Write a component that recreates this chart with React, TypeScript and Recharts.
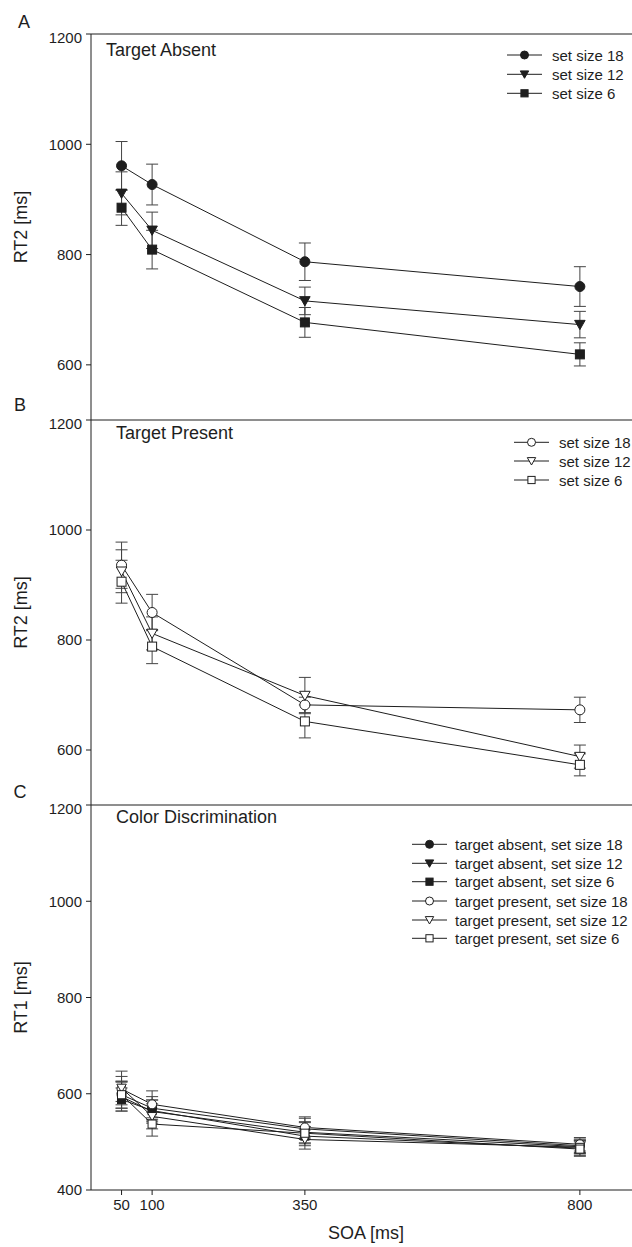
import React from 'react';
import { LineChart, Line, XAxis, YAxis, ErrorBar, ReferenceLine } from 'recharts';

const FONT = '"Liberation Sans", Arial, sans-serif';
const INK = '#1e1e1e';
const BAR = '#444';

// SOA conditions (ms)
const soa = [50, 100, 350, 800];

// Panel A: RT2, target absent
const absent18 = [961, 927, 787, 742];
const absent18Err = [44, 37, 34, 36];
const absent12 = [911, 844, 716, 673];
const absent12Err = [39, 33, 25, 24];
const absent6 = [885, 809, 677, 619];
const absent6Err = [32, 35, 27, 21];

// Panel B: RT2, target present
const present18 = [936, 850, 682, 673];
const present18Err = [42, 33, 14, 23];
const present12 = [925, 812, 699, 588];
const present12Err = [39, 30, 33, 21];
const present6 = [906, 788, 652, 573];
const present6Err = [39, 31, 30, 20];

// Panel C: RT1, color discrimination
const rt1Absent18 = [598, 570, 527, 492];
const rt1Absent18Err = [28, 24, 22, 14];
const rt1Absent12 = [594, 563, 520, 490];
const rt1Absent12Err = [30, 24, 22, 14];
const rt1Absent6 = [588, 565, 512, 487];
const rt1Absent6Err = [24, 22, 20, 15];
const rt1Present18 = [610, 578, 530, 495];
const rt1Present18Err = [26, 28, 22, 14];
const rt1Present12 = [612, 553, 505, 489];
const rt1Present12Err = [35, 26, 20, 14];
const rt1Present6 = [598, 537, 518, 485];
const rt1Present6Err = [28, 25, 22, 15];

const yTicksAB = [600, 800, 1000, 1200];
const yTicksC = [400, 600, 800, 1000, 1200];

type Shape = 'circle' | 'triangle' | 'square';
type Series = { key: string; values: number[]; err: number[]; shape: Shape; filled: boolean; label: string };

const absentSeries: Series[] = [
  { key: 'a18', values: absent18, err: absent18Err, shape: 'circle', filled: true, label: 'set size 18' },
  { key: 'a12', values: absent12, err: absent12Err, shape: 'triangle', filled: true, label: 'set size 12' },
  { key: 'a6', values: absent6, err: absent6Err, shape: 'square', filled: true, label: 'set size 6' },
];

const presentSeries: Series[] = [
  { key: 'p18', values: present18, err: present18Err, shape: 'circle', filled: false, label: 'set size 18' },
  { key: 'p12', values: present12, err: present12Err, shape: 'triangle', filled: false, label: 'set size 12' },
  { key: 'p6', values: present6, err: present6Err, shape: 'square', filled: false, label: 'set size 6' },
];

const colorSeries: Series[] = [
  { key: 'ca18', values: rt1Absent18, err: rt1Absent18Err, shape: 'circle', filled: true, label: 'target absent, set size 18' },
  { key: 'ca12', values: rt1Absent12, err: rt1Absent12Err, shape: 'triangle', filled: true, label: 'target absent, set size 12' },
  { key: 'ca6', values: rt1Absent6, err: rt1Absent6Err, shape: 'square', filled: true, label: 'target absent, set size 6' },
  { key: 'cp18', values: rt1Present18, err: rt1Present18Err, shape: 'circle', filled: false, label: 'target present, set size 18' },
  { key: 'cp12', values: rt1Present12, err: rt1Present12Err, shape: 'triangle', filled: false, label: 'target present, set size 12' },
  { key: 'cp6', values: rt1Present6, err: rt1Present6Err, shape: 'square', filled: false, label: 'target present, set size 6' },
];

function buildRows(series: Series[]) {
  return soa.map((x, i) => {
    const row: Record<string, number> = { soa: x };
    series.forEach((s) => {
      row[s.key] = s.values[i];
      row[s.key + 'Err'] = s.err[i];
    });
    return row;
  });
}

function marker(shape: Shape, filled: boolean, cx: number, cy: number, s: number, key?: string | number) {
  const fill = filled ? INK : '#fff';
  if (shape === 'circle') {
    return <circle key={key} cx={cx} cy={cy} r={s} fill={fill} stroke={INK} strokeWidth={1} />;
  }
  if (shape === 'triangle') {
    const pts = `${cx - s * 1.05},${cy - s * 0.85} ${cx + s * 1.05},${cy - s * 0.85} ${cx},${cy + s * 1.0}`;
    return <polygon key={key} points={pts} fill={fill} stroke={INK} strokeWidth={1} />;
  }
  const h = s * 0.9;
  return <rect key={key} x={cx - h} y={cy - h} width={h * 2} height={h * 2} fill={fill} stroke={INK} strokeWidth={1} />;
}

const tickStyle = { fontSize: 15, fill: INK, fontFamily: FONT };

function Panel(props: {
  top: number;
  plotH: number;
  domain: [number, number];
  ticks: number[];
  series: Series[];
  yLabel: string;
  showX?: boolean;
  size: number;
}) {
  const { top, plotH, domain, ticks, series, yLabel, showX, size } = props;
  const mt = 5;
  const xh = showX ? 57 : 0;
  const data = buildRows(series);
  const cyMid = mt + plotH / 2;
  return (
    <div style={{ position: 'absolute', left: 0, top: top - mt }}>
      <LineChart width={660} height={mt + plotH + xh} data={data} margin={{ top: mt, right: 19, bottom: 0, left: 0 }}>
        <XAxis
          type="number"
          dataKey="soa"
          domain={[0, 900]}
          ticks={soa}
          hide={!showX}
          height={xh}
          tickSize={5}
          tickMargin={4}
          tick={tickStyle}
          axisLine={{ stroke: INK }}
          tickLine={{ stroke: INK }}
          label={{ value: 'SOA [ms]', position: 'insideBottom', offset: 8, fontSize: 18, fill: INK, fontFamily: FONT }}
        />
        <YAxis
          type="number"
          domain={domain}
          ticks={ticks}
          width={91}
          tickSize={5}
          tickMargin={4}
          tick={tickStyle}
          axisLine={{ stroke: INK }}
          tickLine={{ stroke: INK }}
          label={{
            content: () => (
              <text
                x={21}
                y={cyMid}
                transform={`rotate(-90 21 ${cyMid})`}
                textAnchor="middle"
                dominantBaseline="central"
                fontSize={18}
                fill={INK}
                fontFamily={FONT}
              >
                {yLabel}
              </text>
            ),
          }}
        />
        <ReferenceLine y={1200} stroke={INK} strokeWidth={1} />
        {series.map((s) => (
          <Line
            key={s.key}
            dataKey={s.key}
            stroke={INK}
            strokeWidth={1}
            isAnimationActive={false}
            dot={(p: any) => marker(s.shape, s.filled, p.cx, p.cy, size, `${s.key}-${p.index}`)}
            activeDot={false}
          >
            <ErrorBar dataKey={s.key + 'Err'} width={6} stroke={BAR} strokeWidth={1} direction="y" />
          </Line>
        ))}
      </LineChart>
    </div>
  );
}

function LegendRows(props: { series: Series[]; x0: number; x1: number; textX: number; rows: number[] }) {
  const { series, x0, x1, textX, rows } = props;
  const mid = (x0 + x1) / 2;
  return (
    <g>
      {series.map((s, i) => (
        <g key={s.key}>
          <line x1={x0} x2={x1} y1={rows[i]} y2={rows[i]} stroke={INK} strokeWidth={1} />
          {marker(s.shape, s.filled, mid, rows[i], 4)}
          <text x={textX} y={rows[i]} dominantBaseline="central" fontSize={15} fill={INK} fontFamily={FONT}>
            {s.label}
          </text>
        </g>
      ))}
    </g>
  );
}

export default function App() {
  return (
    <div
      style={{
        position: 'absolute',
        left: 0,
        top: 0,
        width: 632,
        height: 1247,
        overflow: 'hidden',
        background: '#fff',
        fontFamily: FONT,
      }}
    >
      <Panel top={34} plotH={386} domain={[500, 1200]} ticks={yTicksAB} series={absentSeries} yLabel="RT2 [ms]" size={5} />
      <Panel top={420} plotH={385} domain={[500, 1200]} ticks={yTicksAB} series={presentSeries} yLabel="RT2 [ms]" size={5} />
      <Panel top={805} plotH={385} domain={[400, 1200]} ticks={yTicksC} series={colorSeries} yLabel="RT1 [ms]" showX size={4.5} />

      <svg width={632} height={1247} style={{ position: 'absolute', left: 0, top: 0, pointerEvents: 'none' }}>
        <g fontFamily={FONT} fill={INK} fontSize={18}>
          <text x={24} y={22} textAnchor="middle" dominantBaseline="central">A</text>
          <text x={20} y={405} textAnchor="middle" dominantBaseline="central">B</text>
          <text x={20} y={792} textAnchor="middle" dominantBaseline="central">C</text>
          <text x={106} y={50} dominantBaseline="central">Target Absent</text>
          <text x={116} y={433} dominantBaseline="central">Target Present</text>
          <text x={116} y={817} dominantBaseline="central">Color Discrimination</text>
        </g>
        <LegendRows series={absentSeries} x0={507} x1={542} textX={552} rows={[55, 74.3, 93.3]} />
        <LegendRows series={presentSeries} x0={514} x1={549} textX={559} rows={[442.3, 461, 480]} />
        <LegendRows series={colorSeries} x0={412} x1={447} textX={455} rows={[844.3, 863.3, 881.7, 901, 920, 938.3]} />
      </svg>
    </div>
  );
}
